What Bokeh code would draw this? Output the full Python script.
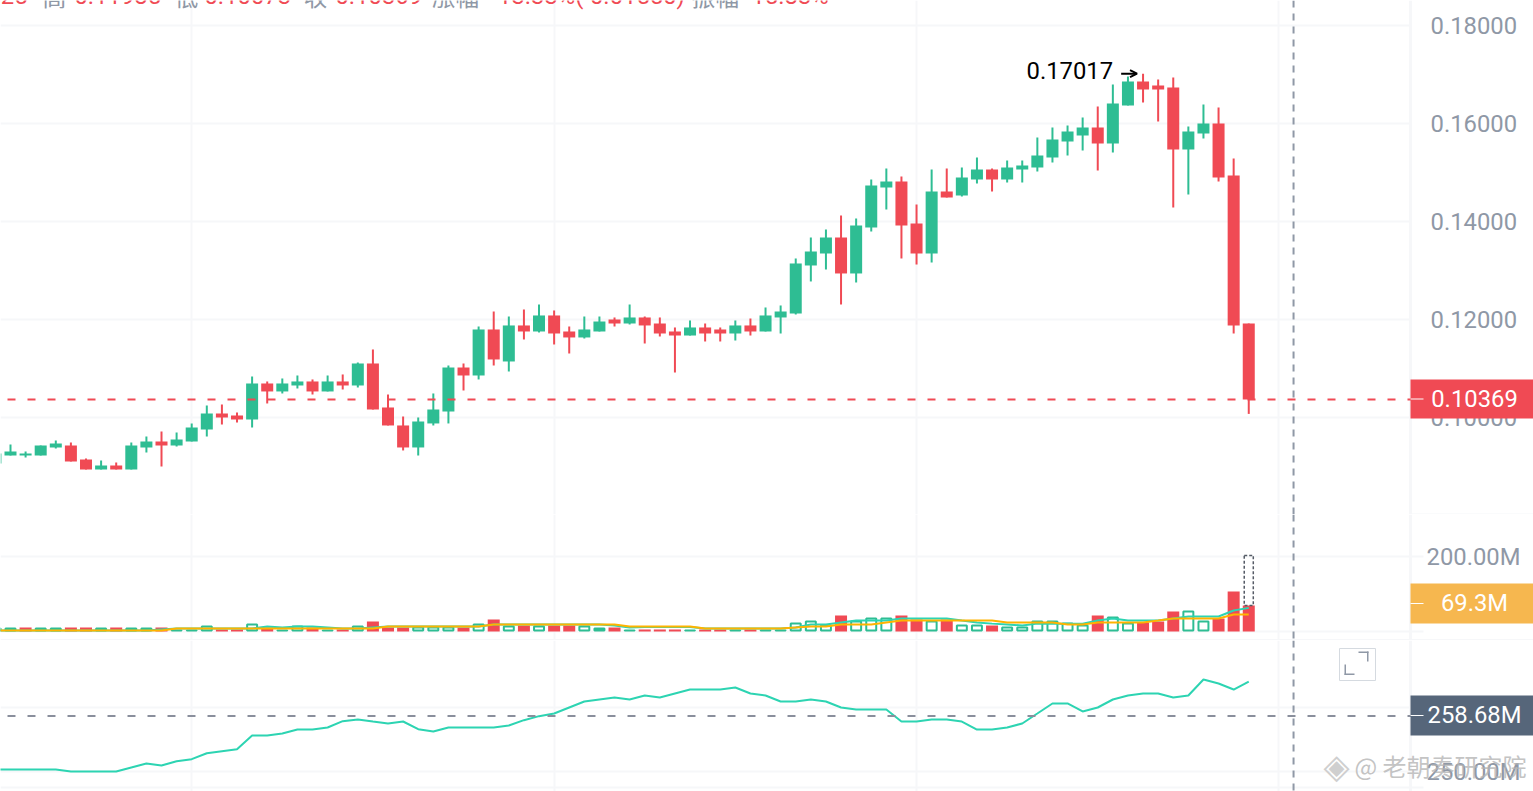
from bokeh.plotting import figure
from bokeh.layouts import column
from bokeh.models import (ColumnDataSource, Range1d, FixedTicker, Span, BoxAnnotation, Label, Arrow, OpenHead)
from bokeh.embed import file_html
from bokeh.resources import INLINE

opens = [.09061,.09224,.09224,.09224,.09388,.09429,.09143,.08939,.09020,.08939,.09388,.09510,.09429,.09510,.09755,.10082,.10041,.09959,.10694,.10531,.10653,.10735,.10531,.10735,.10653,.11102,.10204,.09837,.09388,.09878,.10122,.11020,.10857,.11796,.11143,.11878,.11755,.12082,.11755,.11633,.11755,.12000,.11918,.12041,.11918,.11755,.11673,.11837,.11796,.11714,.11878,.11755,.12041,.12122,.13102,.13347,.13673,.12939,.13878,.14694,.14816,.13959,.13347,.14612,.14531,.14857,.15061,.14857,.15061,.15102,.15306,.15633,.15755,.15918,.15592,.16367,.16857,.16776,.16735,.15469,.15796,.16000,.14939,.11918]
highs = [.09306,.09449,.09306,.09429,.09531,.09490,.09163,.09122,.09082,.09490,.09612,.09714,.09694,.09878,.10245,.10265,.10102,.10837,.10735,.10796,.10857,.10776,.10857,.10878,.11122,.11388,.10469,.10020,.10000,.10490,.11061,.11102,.11857,.12163,.12061,.12204,.12306,.12184,.11857,.12061,.12061,.12041,.12306,.12061,.12041,.11837,.11980,.11918,.11837,.11980,.12020,.12245,.12286,.13245,.13673,.13837,.14122,.14061,.14857,.15082,.14918,.14347,.15061,.15082,.15102,.15306,.15082,.15245,.15245,.15714,.15918,.15959,.16122,.16347,.16796,.16959,.17017,.16898,.16939,.15939,.16388,.16327,.15286,.11918]
lows = [.09061,.09224,.09184,.09224,.09367,.09102,.08939,.08939,.08939,.08939,.09286,.09000,.09408,.09510,.09612,.09857,.09898,.09796,.10286,.10490,.10592,.10469,.10531,.10571,.10612,.10163,.09837,.09327,.09224,.09837,.09878,.10551,.10776,.11061,.10939,.11592,.11735,.11490,.11306,.11612,.11755,.11857,.11898,.11510,.11653,.10918,.11673,.11551,.11551,.11571,.11673,.11755,.11714,.12102,.12776,.13020,.12306,.12755,.13796,.14245,.13245,.13122,.13163,.14490,.14510,.14776,.14612,.14796,.14796,.15020,.15204,.15347,.15449,.15041,.15408,.16367,.16429,.16041,.14286,.14551,.15694,.14816,.11714,.10073]
closes = [.09265,.09306,.09265,.09429,.09469,.09102,.08939,.09020,.08939,.09429,.09510,.09429,.09551,.09796,.10082,.10000,.09959,.10694,.10531,.10694,.10735,.10531,.10735,.10653,.11102,.10163,.09837,.09388,.09918,.10163,.11020,.10857,.11796,.11184,.11878,.11755,.12082,.11714,.11633,.11796,.11959,.11918,.12041,.11878,.11714,.11673,.11837,.11714,.11714,.11878,.11755,.12082,.12163,.13143,.13388,.13673,.12939,.13918,.14735,.14816,.13918,.13347,.14612,.14490,.14898,.15061,.14857,.15102,.15143,.15347,.15673,.15837,.15918,.15592,.16408,.16857,.16694,.16694,.15469,.15837,.16000,.14898,.11878,.10369]
volumes = [10.7,10.7,10.7,10.7,10.7,10.7,10.7,10.7,10.7,10.7,10.7,10.7,5.3,5.3,16,5.3,5.3,21.3,10.7,5.3,16,10.7,5.3,5.3,16,26.7,10.7,10.7,13.3,13.3,13.3,10.7,21.3,32,16,16,16,16,16,16,10.7,10.7,5.3,5.3,5.3,5.3,5.3,5.3,5.3,5.3,5.3,5.3,5.3,24,29.3,18.7,42.7,29.3,37.3,37.3,42.7,32,29.3,32,18.7,18.7,16,13.3,13.3,29.3,29.3,24,18.7,42.7,40,24,24,26.7,53.3,56,29.3,34.7,106.7,69.3]
volume_red_on_rising_candle = [2]
forecast_volume = 203
vol_ma_orange = [2.7]*12 + [8]*14 + [13.3]*7 + [18.7]*9 + [13.3]*5 + [8]*6 + [10.7,13.3,13.3,18.7,18.7,18.7,24] + [29.3]*7 + [24]*4 + [18.7,18.7,24,24,24,24,29.3,34.7,34.7,34.7,34.7,45.3,45.3]
vol_ma_teal = [2.7]*11 + [5.3] + [8]*5 + [8,13.3,10.7,13.3,13.3,10.7,8,8,10.7] + [13.3]*7 + [18.7]*8 + [16,10.7,12,12,12,12,8,8,8,8,8,8,10.7,18.7,18.7,24,29.3,29.3,29.3,34.7,34.7,34.7,34.7,29.3,24,21,18.7,16,21,21,21,21,29.3,34.7,29.3,29.3,29.3,34.7,40,40,40,56,63]
indicator = [250.31,250.31,250.31,250.31,250.31,250.00,250.00,250.00,250.00,250.63,251.25,250.94,251.61,251.93,252.86,253.18,253.49,255.63,255.63,255.94,256.56,256.56,256.88,257.86,258.13,257.81,257.50,257.81,256.61,256.25,256.88,256.88,256.88,256.88,257.19,258.02,258.65,259.06,260.00,260.94,261.25,261.56,261.25,261.88,261.56,262.19,262.81,262.81,262.81,263.13,262.19,261.88,260.94,260.94,261.25,260.94,260.00,259.69,259.69,259.69,257.81,257.81,258.13,258.13,257.81,256.56,256.56,256.88,257.50,259.06,260.63,260.63,259.38,260.00,261.25,261.88,262.19,262.19,261.56,261.88,264.38,263.75,262.81,264.06]
price_ticks = [0.08, 0.10, 0.12, 0.14, 0.16, 0.18]
price_labels = {0.08: "", 0.10: "0.10000", 0.12: "0.12000", 0.14: "0.14000", 0.16: "0.16000", 0.18: "0.18000"}
volume_ticks = [0, 200]
volume_labels = {0: "", 200: "200.00M"}
indicator_ticks = [247.5, 250, 260]
indicator_labels = {247.5: "", 250: "250.00M", 260: "260.00M"}
last_price = 0.10369
last_volume = 69.3
last_indicator = 258.68
peak_price = 0.17017
date_gridlines = [13, 37, 61, 85]
marker_slot = 85.966
header_parts = [
    ("0.11925", 27, "right", "#f04a54"), ("高", 42, "left", "#8f98a6"), ("0.11985", 74, "left", "#f04a54"),
    ("低", 174, "left", "#8f98a6"), ("0.10073", 204, "left", "#f04a54"), ("收", 303, "left", "#8f98a6"),
    ("0.10369", 335, "left", "#f04a54"), ("涨幅", 431, "left", "#8f98a6"), ("-13.33%(-0.01550)", 491, "left", "#f04a54"),
    ("振幅", 691, "left", "#8f98a6"), ("15.83%", 751, "left", "#f04a54"),
]

RED, GREEN, GRID, AXIS = "#f04a54", "#2ebd93", "#f6f7f9", "#8f98a6"
FONT = "Roboto"
FS = "23.8px"
W, FRAME_W = 1533, 1410
BW, H = 0.795, (514, 126, 151)
VOL_STROKE_INSET = 2.67  # half of the 2 px outline, in volume units

n = len(opens)
assert all(len(a) == n for a in (highs, lows, closes, volumes, vol_ma_orange, vol_ma_teal, indicator))
idx = list(range(n))
# the frame spans the whole canvas; the price axis sits at the 1410 px column
x_range = Range1d(0.338, 101.856)
axis_x = 93.716
up = [c >= o for o, c in zip(opens, closes)]
vol_up = [u and i not in volume_red_on_rising_candle for i, u in enumerate(up)]


def box(p, top0, l, r, t, b, color, line=None, alpha=1, level="annotation"):
    p.add_layout(BoxAnnotation(left=l, right=r, top=t - top0, bottom=b - top0,
                               left_units="canvas", right_units="canvas", top_units="canvas", bottom_units="canvas",
                               fill_color=color, fill_alpha=alpha if color else 0, line_color=line,
                               line_alpha=1 if line else 0, level=level))


def pane(top0, height, y0, y1, ticks, labels, tick_out, standoff):
    p = figure(width=W, height=height, x_range=x_range, y_range=Range1d(y0, y1), y_axis_location="right",
               output_backend="svg", toolbar_location=None, min_border_left=0, min_border_top=0,
               min_border_bottom=0, min_border_right=0, tools="")
    p.background_fill_color = "white"
    p.border_fill_color = "white"
    p.outline_line_color = None
    p.xaxis.visible = False
    ax = p.yaxis[0]
    ax.fixed_location = axis_x
    ax.ticker = FixedTicker(ticks=ticks)
    ax.major_label_overrides = labels
    ax.axis_line_color = GRID
    ax.axis_line_width = 3
    ax.major_tick_line_color = GRID
    ax.major_tick_line_width = 2
    ax.major_tick_in = 0
    ax.major_tick_out = tick_out
    ax.minor_tick_line_color = None
    ax.major_label_standoff = standoff
    ax.major_label_text_font = FONT
    ax.major_label_text_font_size = FS
    ax.major_label_text_color = AXIS
    p.ygrid.ticker = FixedTicker(ticks=ticks)
    p.ygrid.grid_line_color = GRID
    p.ygrid.grid_line_width = 2
    p.xgrid.ticker = FixedTicker(ticks=date_gridlines)
    p.xgrid.grid_line_color = GRID
    p.xgrid.grid_line_width = 2
    # grid lines stop at the axis column
    box(p, top0, FRAME_W + 1, W, top0, top0 + height, "white", level="underlay")
    return p


def text(p, top0, x, y, s, color="white", size=FS, font=FONT, align="center", alpha=1.0):
    p.add_layout(Label(x=x, y=y - top0, x_units="canvas", y_units="canvas", text=s, text_color=color,
                       text_font_size=size, text_font=font, text_align=align, text_baseline="middle",
                       text_alpha=alpha, level="annotation"))


def badge(p, top0, t, b, color, s):
    box(p, top0, FRAME_W, W, t, b, color)
    mid = (t + b) / 2
    box(p, top0, FRAME_W, FRAME_W + 13, mid - 0.5, mid + 0.5, "white")
    text(p, top0, 1474, mid - 1, s)


# ---- price pane
pp = pane(0, H[0], 0.08020, 907 / 4900, price_ticks, price_labels, 0, 20)
src = ColumnDataSource(dict(x=idx, o=opens, h=highs, l=lows, c=closes,
                            top=[max(a, b) for a, b in zip(opens, closes)],
                            bot=[min(a, b) for a, b in zip(opens, closes)],
                            col=[GREEN if u else RED for u in up]))
pp.segment("x", "h", "x", "l", source=src, line_color="col", line_width=2)
pp.vbar("x", BW, "top", "bot", source=src, fill_color="col", line_color=None)
pp.add_layout(Span(location=last_price, dimension="width", line_color=RED, line_width=2,
                   line_dash="8 12", line_dash_offset=13))
pp.add_layout(Span(location=marker_slot, dimension="height", line_color=AXIS, line_width=2, line_dash="7 6"))
peak_i = highs.index(peak_price)
pp.add_layout(Label(x=peak_i, y=peak_price, x_offset=-30, y_offset=3, text=f"{peak_price:.5f}", text_color="black",
                    text_font=FONT, text_font_size=FS, text_align="right", text_baseline="middle"))
pp.add_layout(Arrow(x_start=peak_i - 1.45, x_end=peak_i - 0.4, y_start=peak_price, y_end=peak_price,
                    end=OpenHead(size=7, line_color="black", line_width=2), line_color="black", line_width=2))
for s, x, al, col in header_parts:
    font = "Noto Sans CJK SC" if col == AXIS else FONT
    text(pp, 0, x, -5, s, color=col, font=font, align=al)
badge(pp, 0, 379, 418, RED, f"{last_price:.5f}")
box(pp, 0, FRAME_W, W, 513, 515, GRID)

# ---- volume pane
pv = pane(514, H[1], -24, 312, volume_ticks, volume_labels, 13, 3)
red_idx = [i for i in idx if not vol_up[i]]
green_idx = [i for i in idx if vol_up[i]]
pv.vbar([idx[i] for i in red_idx], BW, [volumes[i] for i in red_idx], 0, fill_color=RED, line_color=None)
pv.vbar([idx[i] for i in green_idx], 0.66, [volumes[i] - VOL_STROKE_INSET for i in green_idx], VOL_STROKE_INSET,
        fill_color=GREEN, fill_alpha=[1 if volumes[i] < 11 else 0 for i in green_idx],
        line_color=GREEN, line_width=2)
pv.vbar([idx[-1]], 0.6, [forecast_volume], [last_volume], fill_alpha=0, line_color="#555b66",
        line_width=1.5, line_dash="3 2")
pv.line(idx, vol_ma_teal, line_color="#2dd4b2", line_width=2)
pv.line(idx, vol_ma_orange, line_color="#ffb300", line_width=2)
pv.add_layout(Span(location=marker_slot, dimension="height", line_color=AXIS, line_width=2, line_dash="7 6"))
badge(pv, 514, 583, 623, "#f6b74f", f"{last_volume}M")
box(pv, 514, 0, W, 638.5, 640.5, GRID)

# ---- indicator pane
pi = pane(640, H[2], 250 - 20 / 6.4, 250 + 131 / 6.4, indicator_ticks, indicator_labels, 13, 3)
pi.line(idx, indicator, line_color="#2dd4b2", line_width=2)
pi.add_layout(Span(location=last_indicator, dimension="width", line_color="#8a8f9c", line_width=2,
                   line_dash="8 12", line_dash_offset=13))
pi.add_layout(Span(location=marker_slot, dimension="height", line_color=AXIS, line_width=2, line_dash="7 6"))
badge(pi, 640, 695, 735, "#56667a", f"{last_indicator:.2f}M")
# expand button
box(pi, 640, 1339, 1375, 648, 680, None, line="#d5dae0")
for l, r, t, b in ((1358, 1368, 651, 652.5), (1366.5, 1368, 651, 661), (1344, 1354, 673, 674.5), (1344, 1345.5, 664, 674.5)):
    box(pi, 640, l, r, t, b, "#8f98a6")
# watermark
text(pi, 640, 1336, 765, "◈", color="#cfcfcf", size="34px", font="DejaVu Sans")
text(pi, 640, 1354, 765, "@ 老朝奏研究院", color="#b4b4b4", size="24px", font="Noto Sans CJK SC", align="left", alpha=0.8)

page = column(pp, pv, pi, spacing=0)
open("out.html", "w").write(file_html(page, INLINE))
